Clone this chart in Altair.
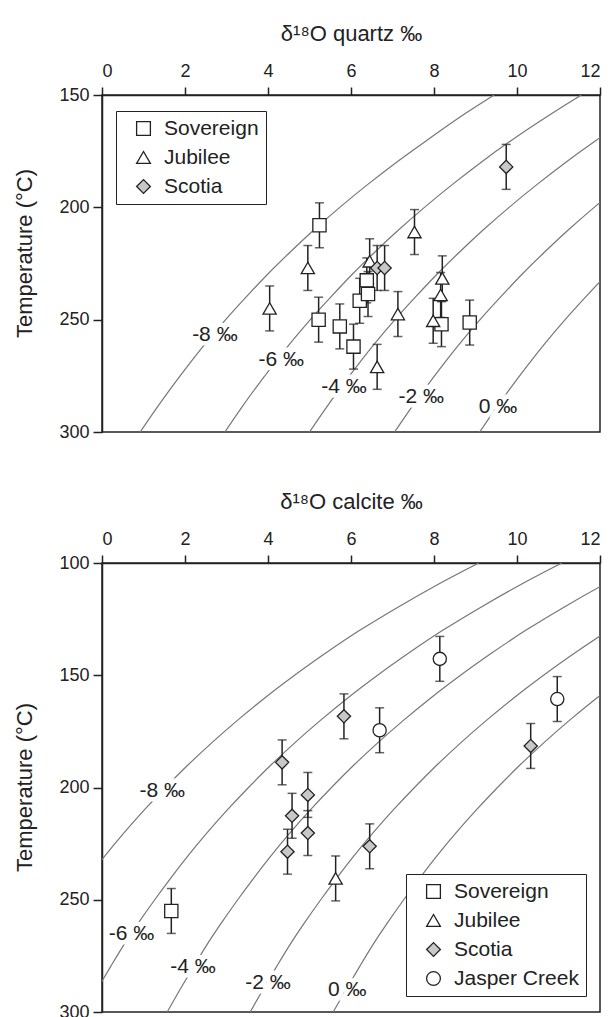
import altair as alt
import pandas as pd

FONT = "Liberation Sans"
INK = "#222222"
CURVE = "#777777"

# ---------------- Top panel: quartz ----------------
q_T = [150, 160, 170, 180, 190, 200, 210, 220, 230, 240, 250, 260, 270, 280, 290, 300]
q_curve_names = ["-8 ‰", "-6 ‰", "-4 ‰", "-2 ‰", "0 ‰"]
q_curve_m8 = [9.45, 8.61, 7.84, 7.09, 6.39, 5.73, 5.11, 4.53, 3.98, 3.47, 2.98, 2.52, 2.09, 1.68, 1.29, 0.92]
q_curve_m6 = [11.55, 10.69, 9.88, 9.13, 8.43, 7.77, 7.15, 6.57, 6.02, 5.51, 5.02, 4.56, 4.13, 3.72, 3.33, 2.96]
q_curve_m4 = [13.59, 12.73, 11.92, 11.17, 10.47, 9.81, 9.19, 8.61, 8.06, 7.55, 7.06, 6.60, 6.17, 5.76, 5.37, 5.00]
q_curve_m2 = [15.64, 14.78, 13.97, 13.22, 12.52, 11.86, 11.24, 10.66, 10.11, 9.60, 9.11, 8.65, 8.22, 7.81, 7.42, 7.05]
q_curve_0 = [17.69, 16.83, 16.02, 15.27, 14.57, 13.91, 13.29, 12.71, 12.16, 11.65, 11.16, 10.70, 10.27, 9.86, 9.47, 9.10]
q_label_x = [2.72, 4.32, 5.83, 7.69, 9.54]
q_label_T = [257, 268, 280, 284.5, 289]

q_sov_x = [5.24, 5.22, 5.73, 6.06, 6.21, 6.38, 6.41, 8.18, 8.86]
q_sov_T = [208, 250, 253, 262, 241.6, 232.5, 238.6, 252, 251.3]
q_jub_x = [4.04, 4.96, 7.53, 7.13, 6.63, 8.20, 8.16, 7.98, 6.45]
q_jub_T = [245, 227, 211, 247.5, 271, 231.6, 239, 250.5, 224]
q_sco_x = [9.74, 6.63, 6.81]
q_sco_T = [182, 227, 227]
q_err = 10

# ---------------- Bottom panel: calcite ----------------
c_T = [100, 110, 120, 130, 140, 150, 160, 170, 180, 190, 200, 210, 220, 230, 240, 250, 260, 270, 280, 290, 300]
c_curve_m8 = [9.08, 8.05, 7.10, 6.21, 5.40, 4.64, 3.93, 3.27, 2.65, 2.07, 1.53, 1.02, 0.54, 0.09, -0.33, -0.73, -1.11, -1.47, -1.80, -2.12, -2.43]
c_curve_m6 = [11.08, 10.05, 9.10, 8.21, 7.40, 6.64, 5.93, 5.27, 4.65, 4.07, 3.53, 3.02, 2.54, 2.09, 1.67, 1.27, 0.89, 0.53, 0.20, -0.12, -0.43]
c_curve_m4 = [13.08, 12.05, 11.10, 10.21, 9.40, 8.64, 7.93, 7.27, 6.65, 6.07, 5.53, 5.02, 4.54, 4.09, 3.67, 3.27, 2.89, 2.53, 2.20, 1.88, 1.57]
c_curve_m2 = [15.08, 14.05, 13.10, 12.21, 11.40, 10.64, 9.93, 9.27, 8.65, 8.07, 7.53, 7.02, 6.54, 6.09, 5.67, 5.27, 4.89, 4.53, 4.20, 3.88, 3.57]
c_curve_0 = [17.08, 16.05, 15.10, 14.21, 13.40, 12.64, 11.93, 11.27, 10.65, 10.07, 9.53, 9.02, 8.54, 8.09, 7.67, 7.27, 6.89, 6.53, 6.20, 5.88, 5.57]
c_label_x = [1.45, 0.71, 2.19, 4.0, 5.91]
c_label_T = [201.7, 265.4, 280, 287, 290]

c_sov_x = [1.67]
c_sov_T = [255]
c_jub_x = [5.63]
c_jub_T = [240.5]
c_sco_x = [5.83, 4.34, 4.96, 4.58, 4.96, 4.47, 6.45, 10.33]
c_sco_T = [168.3, 188.8, 203.3, 212.6, 220.3, 228.6, 226.2, 181.5]
c_jas_x = [8.14, 6.69, 10.97]
c_jas_T = [142.7, 174.5, 160.6]
c_err = 10

series_names = ["Sovereign", "Jubilee", "Scotia", "Jasper Creek"]
series_shapes = ["square", "triangle-up", "diamond", "circle"]
series_fills = ["#ffffff", "#ffffff", "#c8c8c8", "#ffffff"]


def curves_df(T, curves):
    rows = []
    for name, xs in zip(q_curve_names, curves):
        for t, x in zip(T, xs):
            rows.append({"curve": name, "T": t, "x": x})
    return pd.DataFrame(rows)


def points_df(groups, err):
    rows = []
    for name, xs, ts in groups:
        for x, t in zip(xs, ts):
            rows.append({"series": name, "x": x, "T": t, "lo": t - err, "hi": t + err})
    return pd.DataFrame(rows)


def panel(curve_df, label_df, pts, ydom, yvals, xtitle, height, nser, lx, ly, title_y):
    xs = alt.Scale(domain=[0, 12], nice=False, zero=False)
    ys = alt.Scale(domain=ydom, nice=False, zero=False, reverse=True)
    xaxis = alt.Axis(orient="top", values=list(range(0, 13, 2)), title=xtitle,
                     grid=False, tickSize=8, labelPadding=7, titlePadding=17)
    yaxis = alt.Axis(values=yvals, title="Temperature (°C)", grid=False,
                     tickSize=9, labelPadding=4, titlePadding=22, titleY=title_y)
    X = alt.X("x:Q", scale=xs, axis=xaxis)
    Y = alt.Y("T:Q", scale=ys, axis=yaxis)

    lines = alt.Chart(curve_df).mark_line(
        clip=True, color=CURVE, strokeWidth=1.2, interpolate="monotone"
    ).encode(x=X, y=Y, detail="curve:N")

    halo = alt.Chart(label_df).mark_text(
        font=FONT, fontSize=21, stroke="white", strokeWidth=9, fill="white"
    ).encode(x=X, y=Y, text="label:N")
    labels = alt.Chart(label_df).mark_text(
        font=FONT, fontSize=21, color=INK
    ).encode(x=X, y=Y, text="label:N")

    rules = alt.Chart(pts).mark_rule(color=INK, strokeWidth=1.5).encode(
        x=X, y=alt.Y("lo:Q", scale=ys, axis=yaxis), y2="hi:Q")
    cap_lo = alt.Chart(pts).mark_tick(orient="horizontal", color=INK, size=9, thickness=1.5).encode(
        x=X, y=alt.Y("lo:Q", scale=ys, axis=yaxis))
    cap_hi = alt.Chart(pts).mark_tick(orient="horizontal", color=INK, size=9, thickness=1.5).encode(
        x=X, y=alt.Y("hi:Q", scale=ys, axis=yaxis))

    leg = alt.Legend(title=None, orient="none", legendX=lx, legendY=ly,
                     padding=7, strokeColor=INK, fillColor="white",
                     labelFont=FONT, labelFontSize=21, labelColor=INK,
                     symbolSize=190, symbolStrokeWidth=1.3,
                     rowPadding=7, labelOffset=10, symbolOffset=10)
    dom = series_names[:nser]
    marks = alt.Chart(pts).mark_point(
        filled=True, size=175, strokeWidth=1.3, opacity=1
    ).encode(
        x=X, y=Y,
        shape=alt.Shape("series:N", scale=alt.Scale(domain=dom, range=series_shapes[:nser]), legend=leg),
        fill=alt.Fill("series:N", scale=alt.Scale(domain=dom, range=series_fills[:nser]), legend=leg),
        stroke=alt.Stroke("series:N", scale=alt.Scale(domain=dom, range=[INK] * nser), legend=leg),
    )
    return alt.layer(lines, halo, labels, rules, cap_lo, cap_hi, marks).properties(
        width=498, height=height)


q_df = curves_df(q_T, [q_curve_m8, q_curve_m6, q_curve_m4, q_curve_m2, q_curve_0])
q_lab = pd.DataFrame({"label": q_curve_names, "x": q_label_x, "T": q_label_T})
q_pts = points_df([("Sovereign", q_sov_x, q_sov_T), ("Jubilee", q_jub_x, q_jub_T),
                   ("Scotia", q_sco_x, q_sco_T)], q_err)

c_df = curves_df(c_T, [c_curve_m8, c_curve_m6, c_curve_m4, c_curve_m2, c_curve_0])
c_lab = pd.DataFrame({"label": q_curve_names, "x": c_label_x, "T": c_label_T})
c_pts = points_df([("Sovereign", c_sov_x, c_sov_T), ("Jubilee", c_jub_x, c_jub_T),
                   ("Scotia", c_sco_x, c_sco_T), ("Jasper Creek", c_jas_x, c_jas_T)], c_err)

top = panel(q_df, q_lab, q_pts, [150, 300], [150, 200, 250, 300],
            "δ¹⁸O quartz ‰", 337, 3, 14, 16, 158)
bottom = panel(c_df, c_lab, c_pts, [100, 300], [100, 150, 200, 250, 300],
               "δ¹⁸O calcite ‰", 449, 4, 304, 311, 224)

chart = alt.vconcat(top, bottom, spacing=47).resolve_scale(
    x="independent", y="independent", shape="independent", fill="independent",
    stroke="independent"
).resolve_legend(shape="independent", fill="independent", stroke="independent").properties(
    padding={"left": 5, "top": 13, "right": 0, "bottom": 0}
).configure_view(
    stroke=INK, strokeWidth=1.5
).configure_axis(
    labelFont=FONT, titleFont=FONT, labelFontSize=18, titleFontSize=22,
    titleFontWeight="normal", labelColor=INK, titleColor=INK,
    domainColor=INK, domainWidth=1.5, tickColor=INK, tickWidth=1.5
)

chart.save("out.html", embed_options={"renderer": "svg", "actions": False})
